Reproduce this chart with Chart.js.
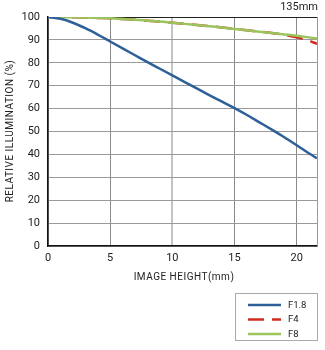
<!DOCTYPE html>
<html>
<head>
<meta charset="utf-8">
<script src="https://cdn.jsdelivr.net/npm/chart.js@4.4.1/dist/chart.umd.min.js"></script>
<style>
  html, body { margin: 0; padding: 0; background: #fff; }
  #wrap { width: 325px; height: 350px; position: relative; }
</style>
</head>
<body>
<div id="wrap"><canvas id="c" width="325" height="350"></canvas></div>
<script>
// Image height (mm) sample positions
const imageHeight = [0, 1, 2, 3, 4, 5, 6, 7, 8, 9, 10, 11, 12, 13, 14, 15, 16, 17, 18, 19, 20, 21, 21.63];
// Relative illumination (%) per aperture
const f18 = [100, 99.2, 97.5, 95.1, 92.3, 89.3, 86.3, 83.3, 80.3, 77.4, 74.5, 71.6, 68.7, 65.8, 63.0, 60.2, 57.2, 54.0, 50.8, 47.5, 44.0, 40.4, 38.3];
const f4  = [100, 100, 99.9, 99.8, 99.6, 99.4, 99.1, 98.8, 98.4, 98.0, 97.5, 97.0, 96.5, 96.0, 95.4, 94.8, 94.2, 93.6, 93.0, 92.3, 91.1, 89.6, 88.3];
const f8  = [100, 100, 99.9, 99.8, 99.6, 99.4, 99.1, 98.8, 98.4, 98.0, 97.5, 97.0, 96.5, 96.0, 95.4, 94.8, 94.2, 93.6, 93.0, 92.4, 91.8, 91.1, 90.6];
const xTicks = [0, 5, 10, 15, 20];
const yTicks = [0, 10, 20, 30, 40, 50, 60, 70, 80, 90, 100];
const xMax = 21.63;

const FONT = 'Roboto, "Liberation Sans", sans-serif';
const TEXT = '#222';

const pts = (ys) => imageHeight.map((x, i) => ({ x, y: ys[i] }));

// Title, axis titles, right border and boxed legend
const decor = {
  id: 'decor',
  afterDraw(chart) {
    const { ctx, chartArea: a } = chart;
    ctx.save();
    // right frame line
    ctx.strokeStyle = '#999';
    ctx.lineWidth = 1;
    ctx.beginPath();
    ctx.moveTo(a.right + 0.5, a.top);
    ctx.lineTo(a.right + 0.5, a.bottom);
    ctx.stroke();

    ctx.fillStyle = TEXT;
    ctx.font = '11px ' + FONT;
    ctx.textAlign = 'right';
    ctx.textBaseline = 'middle';
    ctx.fillText('135mm', 318, 7);

    ctx.font = '10px ' + FONT;
    ctx.textAlign = 'center';
    if ('letterSpacing' in ctx) ctx.letterSpacing = '0.5px';
    ctx.fillText('IMAGE HEIGHT(mm)', 184, 277);
    ctx.save();
    ctx.translate(10, 131);
    ctx.rotate(-Math.PI / 2);
    ctx.fillText('RELATIVE ILLUMINATION (%)', 0, 0);
    ctx.restore();
    if ('letterSpacing' in ctx) ctx.letterSpacing = '0px';

    // legend box
    const bx = 235.5, by = 293.5, bw = 82, bh = 47;
    ctx.strokeStyle = '#aaa';
    ctx.lineWidth = 1;
    ctx.strokeRect(bx, by, bw, bh);
    ctx.font = '9.5px ' + FONT;
    ctx.textAlign = 'left';
    chart.data.datasets.forEach((ds, i) => {
      const y = 305 + i * 14.5;
      ctx.strokeStyle = ds.borderColor;
      ctx.lineWidth = 2.5;
      ctx.setLineDash(ds.borderDash || []);
      ctx.beginPath();
      ctx.moveTo(248, y);
      ctx.lineTo(281, y);
      ctx.stroke();
      ctx.setLineDash([]);
      ctx.fillStyle = TEXT;
      ctx.fillText(ds.label, 288, y + 0.5);
    });
    ctx.restore();
  }
};

new Chart(document.getElementById('c'), {
  type: 'line',
  data: {
    datasets: [
      { label: 'F1.8', data: pts(f18), borderColor: '#2d5f98', borderWidth: 2.5, order: 0 },
      { label: 'F4', data: pts(f4), borderColor: '#d12a22', borderWidth: 2.5, borderDash: [16, 8], order: 2 },
      { label: 'F8', data: pts(f8), borderColor: '#9cc45c', borderWidth: 2.5, order: 1 }
    ]
  },
  options: {
    responsive: false,
    animation: false,
    devicePixelRatio: 1,
    layout: { padding: { top: 17, right: 8, left: 0, bottom: 0 } },
    elements: { point: { radius: 0 }, line: { tension: 0.3, cubicInterpolationMode: 'monotone' } },
    plugins: { legend: { display: false }, tooltip: { enabled: false } },
    scales: {
      x: {
        type: 'linear',
        min: 0,
        max: xMax,
        afterBuildTicks: (s) => { s.ticks = xTicks.map(v => ({ value: v })); },
        afterFit: (s) => { s.height = 104; },
        ticks: { color: TEXT, font: { size: 11, family: FONT }, padding: 6, maxRotation: 0 },
        grid: {
          color: (c) => c.tick && c.tick.value === 10 ? '#c4c4c4' : '#8a8a8a',
          lineWidth: (c) => c.tick && c.tick.value === 10 ? 2 : 1,
          drawTicks: false
        },
        border: { color: '#111', width: 1.5 }
      },
      y: {
        min: 0,
        max: 100,
        afterBuildTicks: (s) => { s.ticks = yTicks.map(v => ({ value: v })); },
        afterFit: (s) => { s.width = 48; },
        ticks: { color: TEXT, font: { size: 11, family: FONT }, padding: 8 },
        grid: {
          color: (c) => c.tick && c.tick.value === 100 ? '#222' : '#9a9a9a',
          lineWidth: 1,
          drawTicks: false
        },
        border: { color: '#111', width: 1.5 }
      }
    }
  },
  plugins: [decor]
});
</script>
</body>
</html>
